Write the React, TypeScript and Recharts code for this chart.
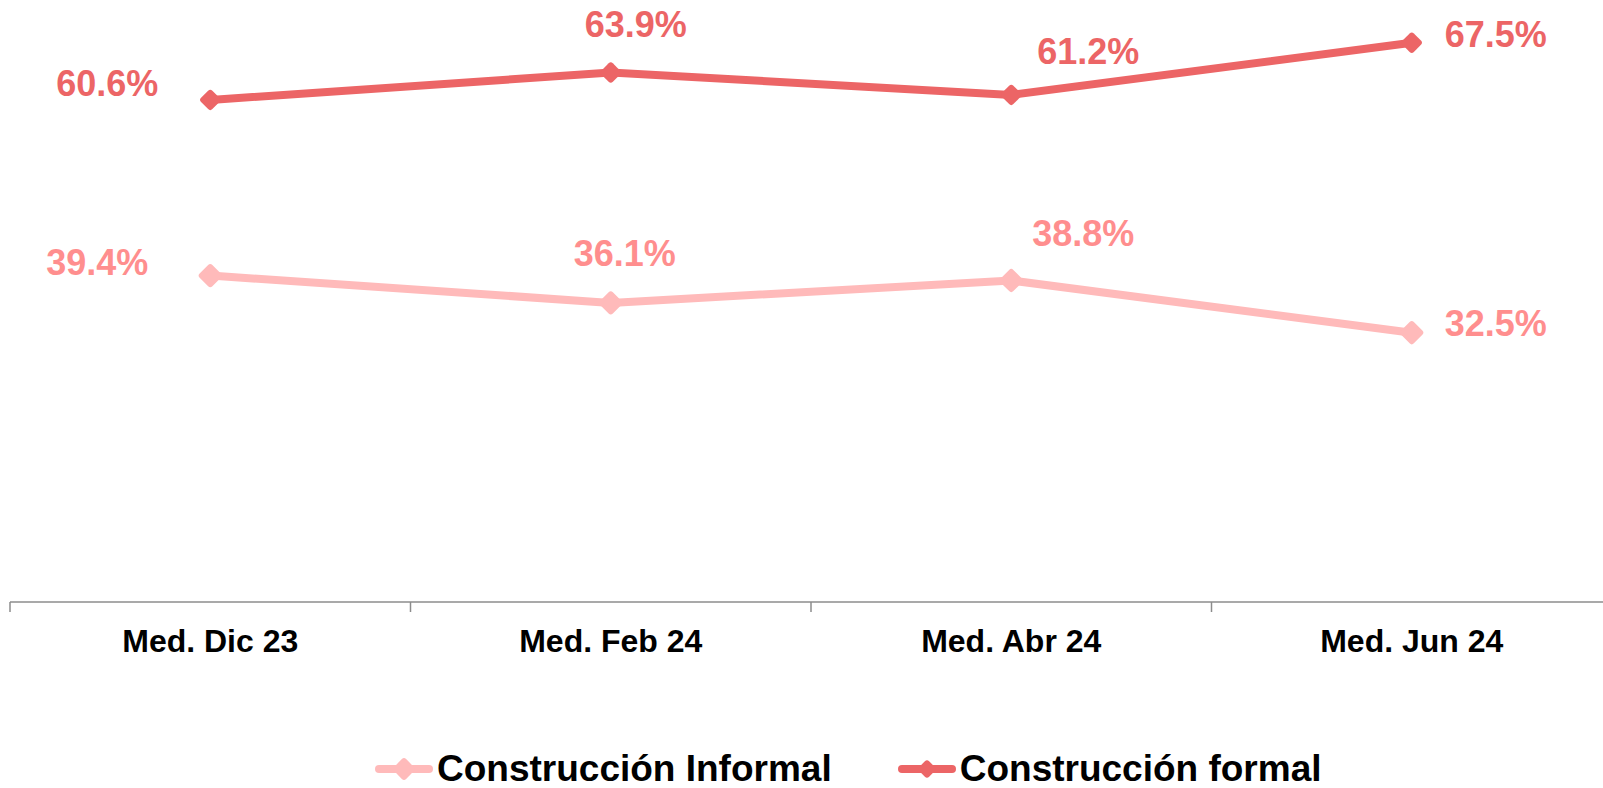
import React from 'react';
import { LineChart, Line, XAxis, YAxis, LabelList } from 'recharts';

const categories = ['Med. Dic 23', 'Med. Feb 24', 'Med. Abr 24', 'Med. Jun 24'];
const informalValues = [39.4, 36.1, 38.8, 32.5];
const formalValues = [60.6, 63.9, 61.2, 67.5];

const data = categories.map((name, i) => ({
  name,
  informal: informalValues[i],
  formal: formalValues[i],
}));

// label placement relative to each point (centre of text)
const informalLabelOffsets = [[-113, -14], [14, -50], [72, -48], [84, -10]];
const formalLabelOffsets = [[-103, -17], [25, -49], [77, -44], [84, -9]];

const FONT = '"Liberation Sans", Arial, sans-serif';
const FORMAL = '#EC6566';
const INFORMAL = '#FFBABA';
const INFORMAL_TEXT = '#FF8E8E';

const CHART_W = 1612;
const CHART_H = 788;
const MARGIN = { top: 22, right: 0, left: 10, bottom: 106 };
const BAND = (CHART_W - MARGIN.left - MARGIN.right) / categories.length;

const Diamond = (size: number, color: string) => (props: any) => {
  const { cx, cy, index } = props;
  if (cx == null || cy == null) return <g key={index} />;
  return (
    <rect
      key={index}
      x={cx - size / 2}
      y={cy - size / 2}
      width={size}
      height={size}
      rx={3}
      fill={color}
      transform={`rotate(45 ${cx} ${cy})`}
    />
  );
};

const makeLabel = (offsets: number[][], color: string) => (props: any) => {
  const { x, y, value, index } = props;
  const [dx, dy] = offsets[index] || [0, -30];
  return (
    <text
      x={x + dx}
      y={y + dy + 13}
      textAnchor="middle"
      fill={color}
      fontFamily={FONT}
      fontWeight="bold"
      fontSize={36}
    >
      {`${Number(value).toFixed(1)}%`}
    </text>
  );
};

const CategoryTick = (props: any) => {
  const { x, y, payload } = props;
  return (
    <g>
      <line x1={x - BAND / 2} y1={y} x2={x - BAND / 2} y2={y + 10} stroke="#8c8c8c" strokeWidth={1.5} />
      <text
        x={x}
        y={y + 50}
        textAnchor="middle"
        fill="#000"
        fontFamily={FONT}
        fontWeight="bold"
        fontSize={32}
      >
        {payload.value}
      </text>
    </g>
  );
};

const LegendItem = ({ color, size, label }: { color: string; size: number; label: string }) => (
  <div style={{ display: 'flex', alignItems: 'center' }}>
    <svg width={58} height={30} style={{ marginRight: 4 }}>
      <line x1={4} y1={15} x2={54} y2={15} stroke={color} strokeWidth={8} strokeLinecap="round" />
      <rect x={29 - size / 2} y={15 - size / 2} width={size} height={size} rx={3} fill={color} transform="rotate(45 29 15)" />
    </svg>
    <span style={{ fontFamily: FONT, fontWeight: 'bold', fontSize: 37, color: '#000', lineHeight: '40px' }}>{label}</span>
  </div>
);

export default function App() {
  return (
    <div style={{ position: 'absolute', left: 0, top: 0, width: 1603, height: 788, overflow: 'hidden', background: '#fff' }}>
      <LineChart width={CHART_W} height={CHART_H} data={data} margin={MARGIN}>
        <XAxis
          dataKey="name"
          height={80}
          padding={{ left: BAND / 2, right: BAND / 2 }}
          axisLine={{ stroke: '#8c8c8c', strokeWidth: 1.5 }}
          tickLine={false}
          tickSize={0}
          tickMargin={0}
          interval={0}
          tick={<CategoryTick />}
        />
        <YAxis hide domain={[0, 70]} />
        <Line
          dataKey="informal"
          stroke={INFORMAL}
          strokeWidth={8}
          dot={Diamond(18, INFORMAL)}
          activeDot={false}
          isAnimationActive={false}
        >
          <LabelList dataKey="informal" content={makeLabel(informalLabelOffsets, INFORMAL_TEXT)} />
        </Line>
        <Line
          dataKey="formal"
          stroke={FORMAL}
          strokeWidth={8}
          dot={Diamond(16, FORMAL)}
          activeDot={false}
          isAnimationActive={false}
        >
          <LabelList dataKey="formal" content={makeLabel(formalLabelOffsets, FORMAL)} />
        </Line>
      </LineChart>
      <div style={{ position: 'absolute', left: 375, top: 749, display: 'flex', alignItems: 'center' }}>
        <LegendItem color={INFORMAL} size={17} label="Construcción Informal" />
        <div style={{ width: 66 }} />
        <LegendItem color={FORMAL} size={14} label="Construcción formal" />
      </div>
    </div>
  );
}
